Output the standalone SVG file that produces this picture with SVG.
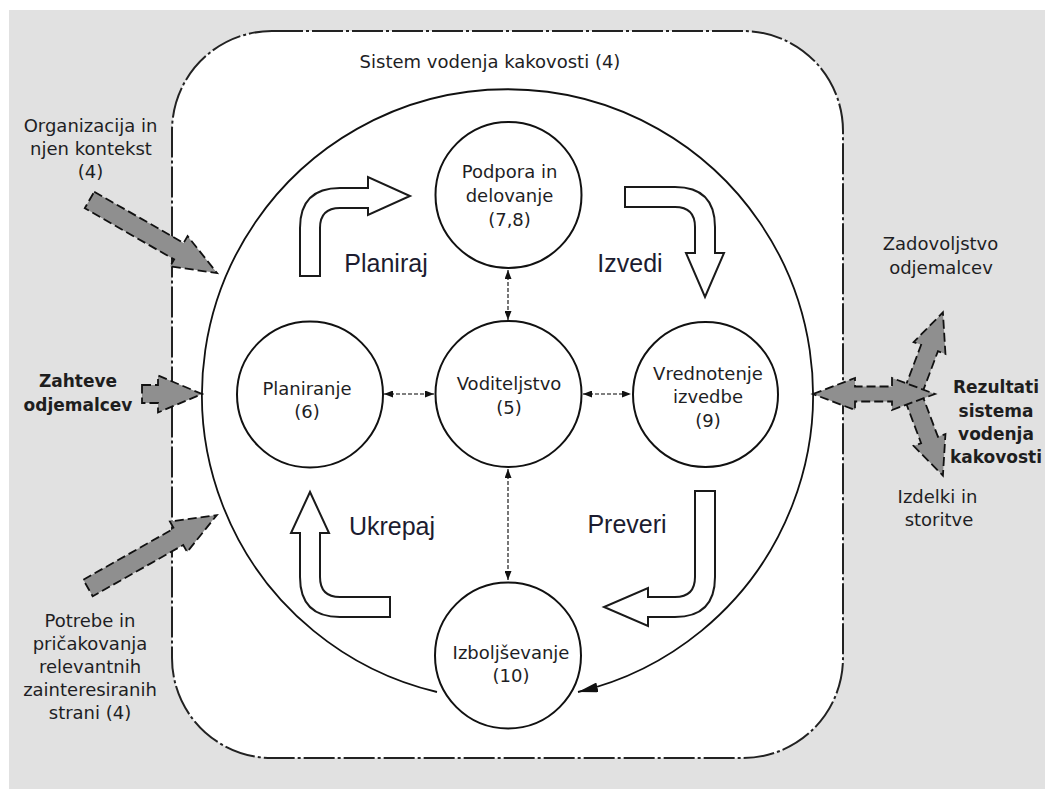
<svg xmlns="http://www.w3.org/2000/svg" width="1045" height="789" viewBox="0 0 1045 789">
<style>
.lbl{font-family:"DejaVu Sans","Liberation Sans",sans-serif;font-size:18px;fill:#1e1e24;text-anchor:middle}
.bold{font-family:"DejaVu Sans","Liberation Sans",sans-serif;font-size:17px;font-weight:bold;fill:#1e1e1e;text-anchor:middle}
.big{font-family:"Liberation Sans",Arial,sans-serif;font-size:25px;fill:#1c1c30;text-anchor:middle}
.node{fill:#fff;stroke:#111;stroke-width:2}
.cycle{fill:#fff;stroke:#1a1a1a;stroke-width:2;stroke-linejoin:miter}
.gray{fill:#8f8f8f;stroke:#111;stroke-width:1.8;stroke-dasharray:9 4;stroke-linejoin:miter}
.conn{stroke:#555;stroke-width:1.6;stroke-dasharray:4 2;fill:none}
</style>
<defs>
<marker id="sm" markerUnits="userSpaceOnUse" markerWidth="9" markerHeight="7" refX="9" refY="3.5" orient="auto-start-reverse">
<path d="M0,0 L9,3.5 L0,7 z" fill="#111"/>
</marker>
<marker id="big" markerUnits="userSpaceOnUse" markerWidth="20" markerHeight="10" refX="20" refY="5" orient="auto">
<path d="M0,0 L20,5 L0,10 z" fill="#111"/>
</marker>
</defs>
<rect x="9" y="10" width="1036" height="779" fill="#e1e1e1"/>
<g id="system">
<rect x="172" y="31" width="671" height="727" rx="100" ry="100" fill="#fff" stroke="#222" stroke-width="2" stroke-dasharray="31 3 3 3"/>
<text class="lbl" x="490" y="68">Sistem vodenja kakovosti (4)</text>
</g>
<g id="connectors">
<path d="M437,692 A305.5,305.5 0 1 1 578,692" fill="none" stroke="#111" stroke-width="1.8" marker-end="url(#big)"/>
<line class="conn" x1="508" y1="270" x2="508" y2="320" marker-start="url(#sm)" marker-end="url(#sm)"/>
<line class="conn" x1="508" y1="469" x2="508" y2="580" marker-start="url(#sm)" marker-end="url(#sm)"/>
<line class="conn" x1="384" y1="394" x2="434" y2="394" marker-start="url(#sm)" marker-end="url(#sm)"/>
<line class="conn" x1="583" y1="394" x2="631" y2="394" marker-start="url(#sm)" marker-end="url(#sm)"/>
</g>
<g id="cycle-arrows">
<path class="cycle" d="M300,276 L300,228 Q300,188 340,188 L368,188 L368,177 L410,196 L368,215 L368,208 L340,208 Q320,208 320,228 L320,276 Z"/>
<path class="cycle" d="M625,187 L675,187 Q715,187 715,227 L715,253 L724,253 L705,297 L686,253 L695,253 L695,227 Q695,207 675,207 L625,207 Z"/>
<path class="cycle" d="M695,491 L715,491 L715,577 Q715,617 675,617 L648,617 L648,626 L604,607 L648,588 L648,597 L675,597 Q695,597 695,577 Z"/>
<path class="cycle" d="M390,617 L340,617 Q300,617 300,577 L300,533 L291,533 L310,492 L329,533 L320,533 L320,577 Q320,597 340,597 L390,597 Z"/>
<text class="big" x="386" y="272">Planiraj</text>
<text class="big" x="630" y="272">Izvedi</text>
<text class="big" x="392" y="535">Ukrepaj</text>
<text class="big" x="627" y="533">Preveri</text>
</g>
<g id="node-podpora">
<circle class="node" cx="508.5" cy="195" r="73"/>
<text class="lbl" x="509.5" y="178">Podpora in</text>
<text class="lbl" x="509.5" y="202">delovanje</text>
<text class="lbl" x="509.5" y="226">(7,8)</text>
</g>
<g id="node-planiranje">
<circle class="node" cx="310" cy="394.5" r="73"/>
<text class="lbl" x="307" y="395">Planiranje</text>
<text class="lbl" x="307" y="418">(6)</text>
</g>
<g id="node-voditeljstvo">
<circle class="node" cx="508.5" cy="394" r="73"/>
<text class="lbl" x="509" y="390">Voditeljstvo</text>
<text class="lbl" x="509" y="414">(5)</text>
</g>
<g id="node-vrednotenje">
<circle class="node" cx="705.5" cy="394.5" r="72.5"/>
<text class="lbl" x="708" y="380">Vrednotenje</text>
<text class="lbl" x="708" y="403">izvedbe</text>
<text class="lbl" x="708" y="427">(9)</text>
</g>
<g id="node-izboljsevanje">
<circle class="node" cx="508" cy="655.5" r="73"/>
<text class="lbl" x="511" y="659">Izboljševanje</text>
<text class="lbl" x="511" y="682">(10)</text>
</g>
<g id="input-organizacija">
<path class="gray" transform="translate(89.5,200) rotate(29.8)" d="M0,-9.5 L103,-9.5 L103,-17.5 L147,0 L103,17.5 L103,9.5 L0,9.5 Z"/>
<text class="lbl" x="90.5" y="132">Organizacija in</text>
<text class="lbl" x="91" y="155">njen kontekst</text>
<text class="lbl" x="90.5" y="178">(4)</text>
</g>
<g id="input-zahteve">
<path class="gray" transform="translate(142,394)" d="M0,-9 L16,-9 L16,-18.5 L60,0 L16,18.5 L16,9 L0,9 Z"/>
<text class="bold" x="78" y="387">Zahteve</text>
<text class="bold" x="78" y="411">odjemalcev</text>
</g>
<g id="input-potrebe">
<path class="gray" transform="translate(88,588) rotate(-29.5)" d="M0,-9.5 L104,-9.5 L104,-17.5 L148,0 L104,17.5 L104,9.5 L0,9.5 Z"/>
<text class="lbl" x="90" y="627">Potrebe in</text>
<text class="lbl" x="90" y="650">pričakovanja</text>
<text class="lbl" x="90" y="673">relevantnih</text>
<text class="lbl" x="90" y="696">zainteresiranih</text>
<text class="lbl" x="90" y="719">strani (4)</text>
</g>
<g id="output-rezultati">
<path class="gray" transform="translate(913,392) rotate(-69.4)" d="M0,-9 L47,-9 L47,-17 L85,0 L47,17 L47,9 L0,9 Z"/>
<path class="gray" transform="translate(913,396) rotate(69.4)" d="M0,-9 L47,-9 L47,-17 L85,0 L47,17 L47,9 L0,9 Z"/>
<path class="gray" d="M813,394 L855,378 L855,386.5 L892,386.5 L892,378 L935,394 L892,410 L892,401.5 L855,401.5 L855,410 Z"/>
<text class="bold" x="996" y="393">Rezultati</text>
<text class="bold" x="996" y="417">sistema</text>
<text class="bold" x="996" y="440">vodenja</text>
<text class="bold" x="996" y="463">kakovosti</text>
<text class="lbl" x="940.5" y="250">Zadovoljstvo</text>
<text class="lbl" x="941" y="274">odjemalcev</text>
<text class="lbl" x="937.5" y="503">Izdelki in</text>
<text class="lbl" x="939" y="526">storitve</text>
</g>
</svg>
